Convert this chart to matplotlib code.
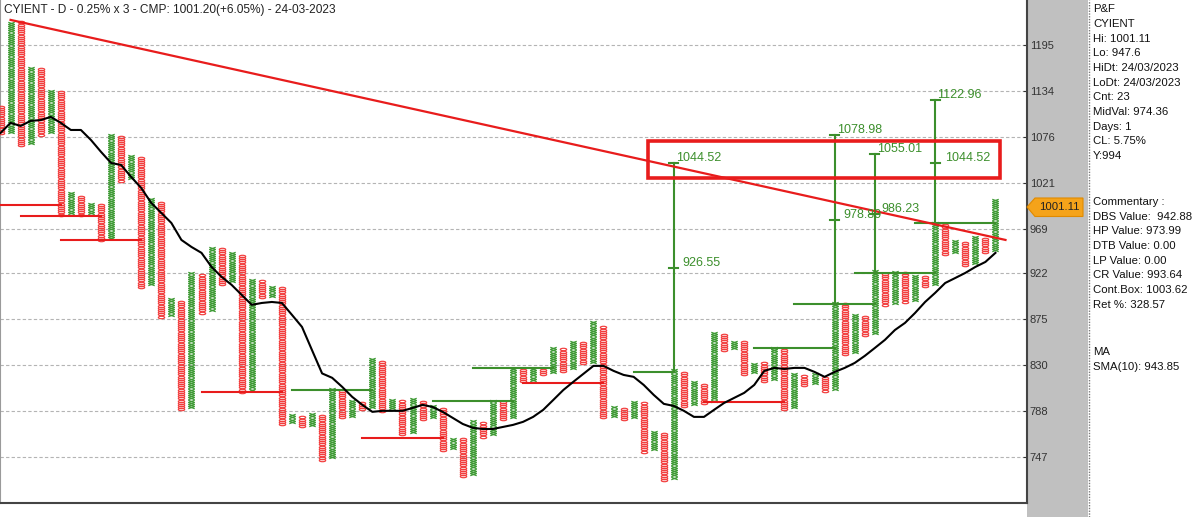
import numpy as np
import matplotlib.pyplot as plt
from matplotlib.path import Path
from matplotlib.transforms import Affine2D
from matplotlib.patches import Rectangle, Polygon
from matplotlib.lines import Line2D

plt.rcParams['font.family'] = ['Liberation Sans', 'DejaVu Sans']

# chart data (P&F columns, 0.25% box, 3 box reversal)
title = "CYIENT - D - 0.25% x 3 - CMP: 1001.20(+6.05%) - 24-03-2023"
box_pct = 0.25
col_kind = ("OXOXOXOXOX" "OXOXOXOXOX" "OXOXOXOXOX" "OXOXOXOXOX" "OXOXOXOXOX"
            "OXOXOXOXOX" "OXOXOXOXOX" "OXOXOXOXOX" "OXOXOXOXOX" "OXOXOXOXOX")
col_high = [1113, 1227, 1225, 1165, 1164, 1135, 1133, 1010, 1006, 998,
            996, 1079, 1076, 1052, 1050, 1002, 998, 894, 892, 922,
            920, 949, 948, 942, 940, 915, 913, 907, 905, 783,
            781, 784, 783, 807, 805, 796, 794, 836, 833, 798,
            797, 798, 796, 791, 789, 763, 762, 778, 777, 796,
            795, 827, 826, 827, 826, 846, 844, 852, 851, 871,
            867, 791, 789, 796, 795, 770, 767, 825, 823, 815,
            812, 861, 859, 853, 852, 832, 831, 846, 844, 821,
            819, 821, 818, 891, 889, 879, 876, 923, 921, 922,
            921, 919, 916, 976, 972, 956, 954, 961, 959, 1001]
col_low = [1081, 1082, 1066, 1069, 1079, 1082, 985, 987, 985, 987,
           957, 959, 1024, 1027, 907, 910, 877, 879, 789, 791,
           881, 884, 910, 913, 805, 807, 897, 898, 776, 778,
           774, 775, 745, 747, 782, 783, 789, 791, 788, 790,
           767, 769, 780, 782, 753, 755, 731, 733, 765, 767,
           780, 782, 815, 816, 821, 823, 824, 827, 832, 833,
           782, 783, 780, 782, 752, 754, 728, 730, 792, 794,
           795, 797, 844, 846, 821, 823, 815, 817, 789, 791,
           811, 813, 806, 808, 840, 842, 859, 861, 889, 891,
           892, 894, 908, 910, 942, 944, 930, 932, 944, 946]
sma10 = [1081, 1093.5, 1089.7, 1096, 1097, 1101, 1093.5, 1084.7, 1084.7, 1072.4,
         1058, 1044.7, 1042.3, 1028.2, 1015.4, 998.2, 986.9, 975.7, 957, 949.4,
         943, 928, 917.6, 909.2, 898.9, 888.8, 890.7, 891.7, 890.7, 878.7,
         866.7, 844, 822, 817.9, 809.5, 800.3, 793.1, 786.8, 787.7, 787.7,
         787.7, 790.3, 793.1, 791.2, 786.8, 781.4, 776, 772.6, 771.6, 771.6,
         773.4, 775.2, 777.9, 782.3, 788.6, 797.5, 806.6, 814.2, 821.6, 829.1,
         829.1, 824.4, 820.6, 818.8, 811.3, 802.1, 794, 792.1, 787.7, 782.3,
         782.3, 788.6, 794.8, 799.4, 804, 811.3, 824.4, 827.2, 826.2, 827.2,
         827.2, 823.4, 818.8, 823.4, 827.2, 831.9, 838.6, 846.2, 854, 863.7,
         870.7, 880.6, 891.7, 901, 911.2, 916.4, 921.7, 928, 933.3, 943]

y_ticks = [1195, 1134, 1076, 1021, 969, 922, 875, 830, 788, 747]

trend_x = [1, 100]
trend_y = [1229.6, 957]

# (start col, end col, price)
red_lines = [(-2, 6, 995.9), (2, 10, 983.9), (6, 14, 957), (20, 28, 804.8),
             (36, 44, 763.8), (52, 60, 813.2), (70, 78, 795.3)]
green_lines = [(29, 37, 806.6), (43, 51, 797), (47, 55, 827), (63, 67, 823.4),
               (75, 83, 846.2), (79, 87, 889.7), (85, 93, 921.7), (91, 99, 975.7)]

target_cols = [67, 83, 87, 93]
target_base = [825, 891, 923, 976]
target_mid = [926.55, 978.80, 986.23, 1044.52]
target_top = [1044.52, 1078.98, 1055.01, 1122.96]
target_mid_dx = [6, 6, 5, 7.5]

zone_cols = [64.4, 99.5]
zone_prices = [1027, 1071.2]

info_top = ["P&F", "CYIENT", "Hi: 1001.11", "Lo: 947.6", "HiDt: 24/03/2023",
            "LoDt: 24/03/2023", "Cnt: 23", "MidVal: 974.36", "Days: 1",
            "CL: 5.75%", "Y:994"]
info_comm = ["Commentary :", "DBS Value:  942.88", "HP Value: 973.99",
             "DTB Value: 0.00", "LP Value: 0.00", "CR Value: 993.64",
             "Cont.Box: 1003.62", "Ret %: 328.57"]
info_ma = ["MA", "SMA(10): 943.85"]
cmp_label = "1001.11"

RED = '#f23c3c'
GREEN = '#3d9a33'
LINE_RED = '#e81c1c'
LINE_GREEN = '#3c8f2c'

W, H = 1200, 517
fig = plt.figure(figsize=(W / 100, H / 100), dpi=100)
ax = fig.add_axes([0, 1 - 503 / H, 1027 / W, 503 / H])
ax.set_yscale('log')
ax.set_xlim(-0.05, 102.14)
ax.set_ylim(709.2, 1257.8)

# boxes
o_path = Path.unit_circle().transformed(Affine2D().scale(1, 0.38))
x_path = Path([(-1, -0.38), (1, 0.38), (-1, 0.38), (1, -0.38)],
              [Path.MOVETO, Path.LINETO, Path.MOVETO, Path.LINETO])
step = 1 + box_pct / 100
ox, oy, xx, xy = [], [], [], []
for k in range(len(col_high)):
    n = int(round(np.log(col_high[k] / col_low[k]) / np.log(step))) + 1
    lv = col_low[k] * step ** np.arange(n)
    if col_kind[k] == 'O':
        ox += [k] * n
        oy += list(lv)
    else:
        xx += [k] * n
        xy += list(lv)
ax.plot(ox, oy, ls='none', marker=o_path, ms=4.6, mew=0.85, mec=RED, mfc='none', zorder=3)
ax.plot(xx, xy, ls='none', marker=x_path, ms=4.6, mew=0.9, mec=GREEN, zorder=3)

# signal lines
for a, b, p in red_lines:
    ax.plot([a, b], [p, p], color=LINE_RED, lw=1.5, zorder=4)
for a, b, p in green_lines:
    ax.plot([a, b], [p, p], color=LINE_GREEN, lw=1.5, zorder=4)

# target counts
for c, base, mid, top, mdx in zip(target_cols, target_base, target_mid, target_top, target_mid_dx):
    ax.plot([c, c], [base, top], color=LINE_GREEN, lw=1.5, zorder=4)
    for v in (mid, top):
        ax.plot([c - 0.45, c + 0.45], [v, v], color=LINE_GREEN, lw=1.5, zorder=4)
    ax.annotate(f"{top:.2f}", (c, top), xytext=(1.5, 3.6), textcoords='offset points',
                ha='left', va='center', fontsize=9, color=LINE_GREEN, zorder=6)
    ax.annotate(f"{mid:.2f}", (c, mid), xytext=(mdx, 3.6), textcoords='offset points',
                ha='left', va='center', fontsize=9, color=LINE_GREEN, zorder=6)

# trend line, SMA, zone box
ax.plot(trend_x, trend_y, color=LINE_RED, lw=1.6, zorder=5)
ax.plot(range(len(sma10)), sma10, color='black', lw=1.5, zorder=5)
ax.add_patch(Rectangle((zone_cols[0], zone_prices[0]), zone_cols[1] - zone_cols[0],
                       zone_prices[1] - zone_prices[0], fill=False,
                       edgecolor=LINE_RED, lw=2.6, zorder=6))

# axis styling
ax.yaxis.tick_right()
ax.minorticks_off()
ax.set_yticks(y_ticks)
ax.set_yticklabels([str(t) for t in y_ticks])
ax.set_xticks([])
ax.tick_params(axis='y', direction='in', length=3, pad=2, labelsize=8,
               colors='#333333')
ax.grid(axis='y', color='#b4b4b4', ls=(0, (3, 2)), lw=0.8)
ax.spines['top'].set_visible(False)
ax.spines['left'].set_color('#9a9a9a')
ax.spines['left'].set_linewidth(0.8)
for s in ('right', 'bottom'):
    ax.spines[s].set_color('#444444')
    ax.spines[s].set_linewidth(1.5)

fig.text(4 / W, 1 - 10 / H, title, fontsize=8.6, va='center', color='#222222')

# right side panels
fig.add_artist(Rectangle((1027 / W, 0), (1088 - 1027) / W, 1, transform=fig.transFigure,
                         facecolor='#c0c0c0', edgecolor='none', zorder=-1))
fig.add_artist(Line2D([1088.5 / W] * 2, [0, 1], transform=fig.transFigure,
                      color='#7a7a7a', ls=(0, (1, 1)), lw=1))

tag = [(1027, 207), (1035, 198), (1083, 198), (1083, 216.5), (1035, 216.5)]
fig.add_artist(Polygon([(px / W, 1 - py / H) for px, py in tag], closed=True,
                       transform=fig.transFigure, facecolor='#f5a31a',
                       edgecolor='#e08a00', lw=0.8, zorder=5))
fig.text(1059 / W, 1 - 207 / H, cmp_label, fontsize=8.2, ha='center', va='center',
         color='#222222', zorder=6)

for i, s in enumerate(info_top):
    fig.text(1093 / W, 1 - (9.3 + 14.65 * i) / H, s, fontsize=8.2, va='center', color='#111111')
for i, s in enumerate(info_comm):
    fig.text(1093 / W, 1 - (202 + 14.65 * i) / H, s, fontsize=8.2, va='center', color='#111111')
for i, s in enumerate(info_ma):
    fig.text(1093 / W, 1 - (352 + 14.65 * i) / H, s, fontsize=8.2, va='center', color='#111111')

fig.savefig('out.png', dpi=100)
